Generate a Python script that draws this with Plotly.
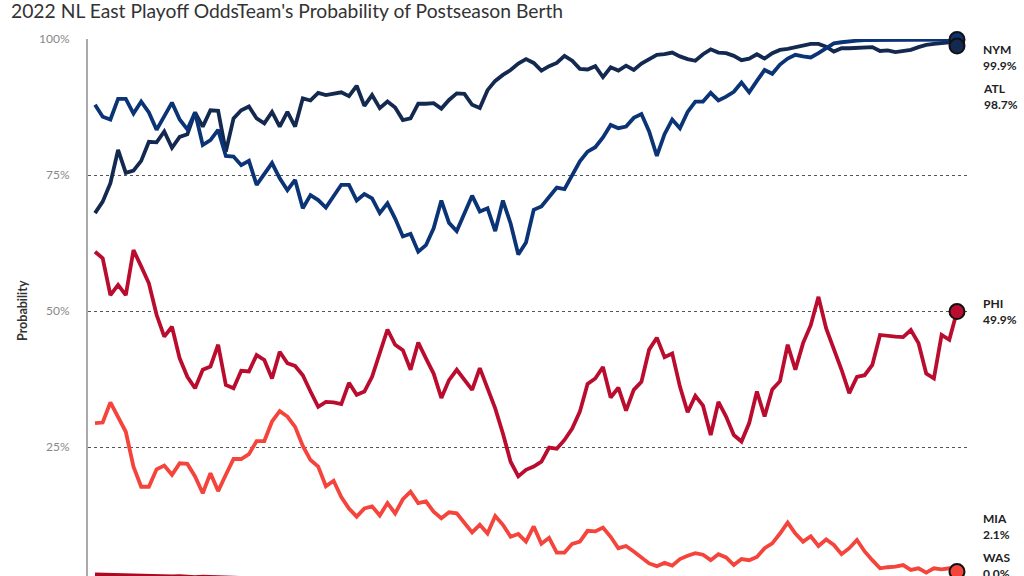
import plotly.graph_objects as go

# ---------------- data ----------------
teams = ["NYM", "ATL", "PHI", "MIA", "WAS"]

nym = [
    87.9, 85.7, 85.2, 89.0, 89.0, 86.3, 88.5, 86.5, 83.3, 85.9,
    88.3, 85.2, 83.4, 86.5, 80.5, 81.4, 83.3, 78.5, 78.4, 76.8,
    77.6, 73.2, 75.3, 77.2, 74.4, 72.2, 74.1, 68.9, 71.3, 70.4,
    69.0, 71.0, 73.2, 73.2, 70.3, 71.5, 70.7, 68.0, 69.8, 67.0,
    63.7, 64.2, 60.9, 62.1, 65.2, 70.3, 66.2, 64.7, 68.0, 71.2,
    68.3, 68.9, 64.7, 70.3, 66.1, 60.4, 62.6, 68.6, 69.2, 71.0,
    72.7, 72.4, 75.0, 77.5, 79.3, 80.1, 81.9, 84.2, 83.6, 83.9,
    85.5, 86.2, 83.0, 78.5, 82.5, 85.2, 83.6, 86.6, 88.5, 88.5,
    90.1, 88.7, 89.4, 90.3, 92.0, 90.2, 92.3, 94.3, 93.6, 95.3,
    96.4, 97.1, 96.8, 96.6, 97.4, 98.3, 99.2, 99.4, 99.6, 99.7,
    99.8, 99.8, 99.9, 99.9, 99.8, 99.9, 99.9, 99.9, 99.8, 99.9,
    99.9, 99.9, 99.9,
]

atl = [
    68.0, 70.1, 73.5, 79.6, 75.4, 75.8, 77.6, 81.1, 81.0, 83.0,
    80.0, 82.0, 82.5, 86.5, 83.9, 86.9, 86.8, 79.3, 85.4, 86.9,
    87.6, 85.4, 84.5, 86.6, 83.9, 86.6, 83.9, 89.1, 88.7, 90.1,
    89.7, 90.0, 90.2, 89.5, 91.4, 87.7, 89.7, 87.3, 88.5, 87.4,
    85.1, 85.4, 88.1, 88.1, 88.2, 87.2, 88.8, 90.0, 89.9, 87.9,
    87.3, 90.6, 92.3, 93.4, 94.3, 95.5, 96.3, 95.6, 94.2, 95.0,
    95.6, 96.9, 96.0, 94.5, 94.4, 95.0, 93.0, 94.8, 94.2, 95.1,
    94.3, 95.5, 96.3, 97.1, 97.2, 97.5, 96.8, 96.3, 96.0, 97.2,
    98.1, 97.5, 97.4, 96.9, 96.1, 96.4, 97.2, 96.4, 97.4, 98.0,
    98.2, 98.5, 98.9, 99.1, 99.1, 98.6, 97.7, 98.3, 98.3, 98.4,
    98.5, 98.5, 97.8, 97.9, 97.6, 97.8, 98.0, 98.5, 98.9, 99.1,
    99.2, 99.4, 98.7,
]

phi = [
    60.9, 59.7, 52.9, 54.8, 52.9, 61.2, 58.2, 55.1, 49.3, 45.3,
    47.1, 41.3, 37.9, 35.8, 39.2, 39.8, 43.8, 36.4, 35.8, 39.0,
    38.9, 41.9, 41.0, 37.6, 42.5, 40.4, 39.9, 38.2, 35.2, 32.4,
    33.3, 33.2, 32.9, 36.8, 34.6, 35.2, 37.9, 42.5, 46.6, 43.8,
    42.8, 39.2, 44.2, 41.3, 38.5, 34.0, 37.3, 39.2, 37.3, 35.5,
    39.5, 35.8, 32.1, 27.5, 22.3, 19.6, 20.8, 21.4, 22.3, 24.9,
    24.7, 26.3, 28.4, 31.5, 36.6, 37.6, 39.7, 34.1, 35.9, 31.7,
    35.5, 37.0, 42.9, 45.1, 41.5, 42.2, 36.1, 31.4, 34.4, 32.6,
    27.2, 33.3, 30.6, 27.2, 26.0, 29.4, 35.2, 30.6, 35.6, 37.1,
    43.8, 39.2, 44.1, 47.4, 52.6, 46.8, 43.1, 39.2, 34.9, 37.9,
    38.2, 40.1, 45.6, 45.4, 45.3, 45.2, 46.5, 44.1, 38.5, 37.6,
    45.6, 44.7, 49.9,
]

mia = [
    29.4, 29.5, 33.2, 30.6, 27.8, 21.4, 17.7, 17.7, 20.9, 21.6,
    19.9, 22.0, 21.9, 19.6, 16.5, 20.2, 16.9, 19.9, 22.8, 22.8,
    23.7, 26.1, 26.1, 29.7, 31.6, 30.6, 28.7, 25.2, 22.6, 21.4,
    17.8, 18.8, 15.8, 13.7, 12.2, 13.7, 14.1, 12.4, 14.7, 12.8,
    15.4, 16.8, 14.7, 15.0, 13.1, 11.9, 13.0, 12.8, 11.0, 9.3,
    10.7, 9.1, 12.3, 10.7, 8.5, 9.0, 7.6, 10.4, 7.2, 8.3,
    5.6, 5.6, 7.2, 7.6, 9.6, 9.5, 10.2, 8.5, 6.4, 6.8,
    5.8, 4.8, 3.6, 3.1, 3.7, 3.2, 4.4, 5.0, 5.5, 5.2,
    4.2, 5.3, 4.7, 3.3, 4.4, 4.2, 4.8, 6.4, 7.3, 9.1,
    11.1, 9.1, 7.6, 8.6, 6.8, 8.0, 7.0, 5.3, 6.4, 7.9,
    5.8, 4.2, 2.7, 2.9, 3.0, 3.3, 2.4, 2.7, 1.9, 2.7,
    2.5, 2.7, 2.1,
]

was = [
    1.6, 1.55, 1.6, 1.5, 1.45, 1.5, 1.35, 1.3, 1.35, 1.25,
    1.2, 1.25, 1.15, 1.1, 1.15, 1.1, 1.05, 1.0, 0.9, 0.9,
    0.8, 0.8, 0.7, 0.7, 0.7, 0.6, 0.6, 0.6, 0.5, 0.5,
    0.5, 0.4, 0.4, 0.4, 0.4, 0.3, 0.3, 0.3, 0.3, 0.3,
    0.2, 0.2, 0.2, 0.2, 0.2, 0.2, 0.1, 0.1, 0.1, 0.1,
    0.1, 0.1, 0.1, 0.1, 0.1, 0.1, 0.1, 0.1, 0.1, 0.1,
    0.1, 0.1, 0.1, 0.0, 0.0, 0.0, 0.0, 0.0, 0.0, 0.0,
    0.0, 0.0, 0.0, 0.0, 0.0, 0.0, 0.0, 0.0, 0.0, 0.0,
    0.0, 0.0, 0.0, 0.0, 0.0, 0.0, 0.0, 0.0, 0.0, 0.0,
    0.0, 0.0, 0.0, 0.0, 0.0, 0.0, 0.0, 0.0, 0.0, 0.0,
    0.0, 0.0, 0.0, 0.0, 0.0, 0.0, 0.0, 0.0, 0.0, 0.0,
    0.0, 0.0, 0.0,
]

y_ticks = [25, 50, 75, 100]
y_tick_labels = ["25%", "50%", "75%", "100%"]

series = {"NYM": nym, "ATL": atl, "PHI": phi, "MIA": mia, "WAS": was}
for k, v in series.items():
    assert len(v) == 113, (k, len(v))
days = list(range(len(nym)))

colors = {
    "NYM": "#0a3476",
    "ATL": "#13294f",
    "PHI": "#ba0c2f",
    "MIA": "#f4443b",
    "WAS": "#ab0a22",
}

FONT = "Lato"

fig = go.Figure()

# lines
for team in ["WAS", "MIA", "PHI", "ATL", "NYM"]:
    fig.add_trace(go.Scatter(
        x=days, y=series[team], mode="lines",
        line=dict(color=colors[team], width=3.8),
        cliponaxis=True, hoverinfo="skip", showlegend=False,
    ))

# end markers
for team in ["WAS", "MIA", "PHI", "NYM", "ATL"]:
    fig.add_trace(go.Scatter(
        x=[days[-1]], y=[series[team][-1]], mode="markers",
        marker=dict(size=15, color=colors[team], line=dict(color="#111", width=2)),
        cliponaxis=False, hoverinfo="skip", showlegend=False,
    ))

# end labels with simple collision avoidance
order = sorted(teams, key=lambda t: series[t][-1], reverse=True)
top_limit, bottom_limit, gap = 96.65, 3.2, 7.2
pos = {}
prev = None
for t in order:
    y = min(series[t][-1], top_limit)
    if prev is not None:
        y = min(y, prev - gap)
    pos[t] = y
    prev = y
nxt = None
for t in reversed(order):
    y = max(pos[t], bottom_limit)
    if nxt is not None:
        y = max(y, nxt + gap)
    pos[t] = y
    nxt = y

for t in teams:
    fig.add_annotation(
        x=1, xref="paper", xshift=13, xanchor="left",
        y=pos[t], yref="y", yanchor="middle",
        text=f"{t}<br>{series[t][-1]:.1f}%", align="left", showarrow=False,
        font=dict(family=FONT, size=12, color="#222", weight="bold"),
    )

# y axis title
fig.add_annotation(
    x=0, xref="paper", xshift=-66, xanchor="center",
    y=50, yref="y", yanchor="middle",
    text="Probability", textangle=-90, showarrow=False,
    font=dict(family=FONT, size=12.5, color="#333", weight="bold"),
)

fig.update_layout(
    width=1024, height=576,
    margin=dict(l=88, r=56, t=39, b=0, pad=0),
    paper_bgcolor="white", plot_bgcolor="white",
    title=dict(
        text="2022 NL East Playoff OddsTeam's Probability of Postseason Berth",
        x=11 / 1024, xref="container", xanchor="left",
        y=1 - 11 / 576, yref="container", yanchor="middle",
        font=dict(family=FONT, size=19.3, color="#333"),
    ),
    xaxis=dict(range=[-0.91, 113.43], visible=False),
    yaxis=dict(
        range=[1.29, 100],
        tickvals=y_ticks, ticktext=y_tick_labels,
        showgrid=True, gridcolor="#555", griddash="dot", gridwidth=1,
        zeroline=False, showline=True, linecolor="#aaaaaa", linewidth=2,
        ticks="outside", ticklen=14, tickcolor="rgba(0,0,0,0)",
        tickfont=dict(family=FONT, size=12, color="#888"),
        fixedrange=True,
    ),
    showlegend=False,
)

fig.write_html(
    "out.html",
    config={"displayModeBar": False},
    post_script="document.body.style.margin='0px';document.body.style.overflow='hidden';",
)
